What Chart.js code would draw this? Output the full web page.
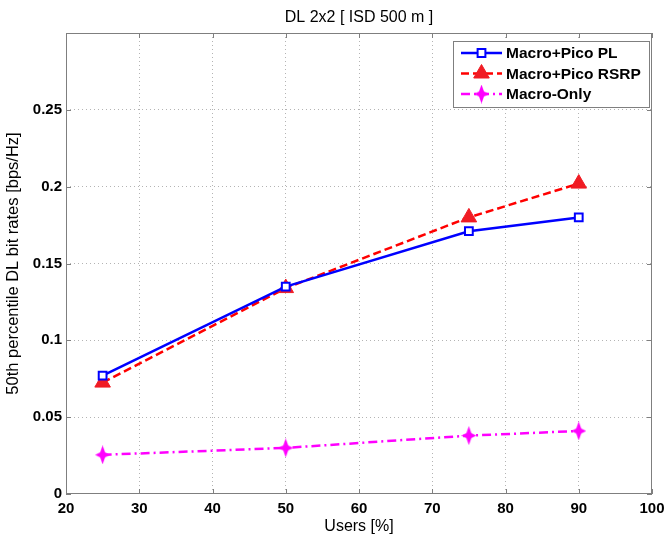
<!DOCTYPE html>
<html>
<head>
<meta charset="utf-8">
<script src="https://cdn.jsdelivr.net/npm/chart.js@4/dist/chart.umd.min.js"></script>
<style>
html,body{margin:0;padding:0;background:#fff;}
#wrap{width:667px;height:536px;position:relative;}
</style>
</head>
<body>
<div id="wrap"><canvas id="c" width="667" height="536"></canvas></div>
<script>
// ---- data ----
const chartTitle = 'DL 2x2 [ ISD 500 m ]';
const xTitle = 'Users [%]';
const yTitle = '50th percentile DL bit rates [bps/Hz]';
const users = [25, 50, 75, 90];
const picoPL = [0.077, 0.135, 0.171, 0.180];
const picoRSRP = [0.0725, 0.134, 0.180, 0.202];
const macroOnly = [0.0255, 0.030, 0.038, 0.041];
const seriesNames = ['Macro+Pico PL', 'Macro+Pico RSRP', 'Macro-Only'];
const xTicks = [20, 30, 40, 50, 60, 70, 80, 90, 100];
const xTickLabels = ['20', '30', '40', '50', '60', '70', '80', '90', '100'];
const yTicks = [0, 0.05, 0.1, 0.15, 0.2, 0.25, 0.3];
const yTickLabels = ['0', '0.05', '0.1', '0.15', '0.2', '0.25', ''];

const FONT = '"Liberation Sans", Arial, sans-serif';

// 4-point star marker
function makeStar(color) {
  const c = document.createElement('canvas');
  c.width = 15; c.height = 19;
  const g = c.getContext('2d');
  g.fillStyle = color;
  g.beginPath();
  g.moveTo(7.5, 0);
  g.lineTo(10, 7);
  g.lineTo(15, 9.5);
  g.lineTo(10, 12);
  g.lineTo(7.5, 19);
  g.lineTo(5, 12);
  g.lineTo(0, 9.5);
  g.lineTo(5, 7);
  g.closePath();
  g.fill();
  return c;
}
const star = makeStar('#ff00ff');

const toXY = (arr) => arr.map((v, i) => ({x: users[i], y: v}));

const boxPlugin = {
  id: 'box',
  afterDatasetsDraw(chart) {
    const {ctx, chartArea: a, scales} = chart;
    ctx.save();
    ctx.strokeStyle = '#7f7f7f';
    ctx.lineWidth = 1;
    ctx.strokeRect(a.left + 0.5, a.top + 0.5, a.right - a.left - 1, a.bottom - a.top - 1);
    ctx.beginPath();
    const tl = 5;
    xTicks.forEach(v => {
      const x = Math.round(scales.x.getPixelForValue(v)) + 0.5;
      ctx.moveTo(x, a.bottom); ctx.lineTo(x, a.bottom - tl);
      ctx.moveTo(x, a.top); ctx.lineTo(x, a.top + tl);
    });
    yTicks.forEach(v => {
      const y = Math.round(scales.y.getPixelForValue(v)) + 0.5;
      ctx.moveTo(a.left, y); ctx.lineTo(a.left + tl, y);
      ctx.moveTo(a.right, y); ctx.lineTo(a.right - tl, y);
    });
    ctx.stroke();
    ctx.restore();
  },
  afterDraw(chart) {
    // legend
    const {ctx, chartArea: a} = chart;
    const bw = 196, bh = 66;
    const bx = a.right - 3 - bw, by = a.top + 8;
    ctx.save();
    ctx.fillStyle = '#fff';
    ctx.fillRect(bx, by, bw, bh);
    ctx.strokeStyle = '#7f7f7f';
    ctx.lineWidth = 1;
    ctx.strokeRect(bx + 0.5, by + 0.5, bw, bh);
    ctx.font = 'bold 15.5px ' + FONT;
    ctx.textBaseline = 'middle';
    chart.data.datasets.forEach((ds, i) => {
      const y = by + 12 + i * 20.5;
      const x0 = bx + 8, x1 = bx + 49, xm = (x0 + x1) / 2;
      ctx.strokeStyle = ds.borderColor;
      ctx.lineWidth = ds.borderWidth;
      ctx.setLineDash(ds.borderDash || []);
      ctx.beginPath(); ctx.moveTo(x0, y); ctx.lineTo(x1, y); ctx.stroke();
      ctx.setLineDash([]);
      ctx.fillStyle = ds.pointBackgroundColor;
      ctx.strokeStyle = ds.pointBorderColor;
      ctx.lineWidth = ds.pointBorderWidth;
      Chart.helpers.drawPoint(ctx, {pointStyle: ds.pointStyle, radius: ds.pointRadius, borderWidth: ds.pointBorderWidth, rotation: 0}, xm, y);
      ctx.fillStyle = '#000';
      ctx.fillText(ds.label, bx + 53, y + 1);
    });
    ctx.restore();
  }
};

new Chart(document.getElementById('c'), {
  type: 'line',
  data: {
    datasets: [
      {
        label: seriesNames[0], data: toXY(picoPL),
        borderColor: '#0000ff', borderWidth: 2.5,
        pointStyle: 'rect', pointRadius: 5.5, pointBorderWidth: 2,
        pointBackgroundColor: '#ffffff', pointBorderColor: '#0000ff'
      },
      {
        label: seriesNames[1], data: toXY(picoRSRP),
        borderColor: '#ff0000', borderWidth: 2.5, borderDash: [8, 4],
        pointStyle: 'triangle', pointRadius: 9, pointBorderWidth: 1,
        pointBackgroundColor: '#f01c24', pointBorderColor: '#f01c24'
      },
      {
        label: seriesNames[2], data: toXY(macroOnly),
        borderColor: '#ff00ff', borderWidth: 2.5, borderDash: [9, 4, 2, 4],
        pointStyle: star, pointRadius: 9, pointBorderWidth: 0,
        pointBackgroundColor: '#ff00ff', pointBorderColor: '#ff00ff'
      }
    ]
  },
  options: {
    responsive: false,
    animation: false,
    devicePixelRatio: 1,
    layout: {padding: {left: 0, right: 15, top: 0, bottom: 0}},
    elements: {line: {tension: 0, fill: false}},
    plugins: {
      legend: {display: false},
      tooltip: {enabled: false},
      title: {
        display: true, text: chartTitle, color: '#000', fullSize: false,
        font: {family: FONT, size: 16, weight: 'normal'},
        padding: {top: 8, bottom: 5.8}
      }
    },
    scales: {
      x: {
        type: 'linear', min: 20, max: 100,
        afterBuildTicks: (s) => { s.ticks = xTicks.map(v => ({value: v})); },
        afterFit: (s) => { s.height = 42; s.paddingLeft = 0; s.paddingRight = 0; },
        ticks: {
          color: '#000', padding: 6, maxRotation: 0, autoSkip: false,
          font: {family: FONT, size: 15, weight: 'bold'},
          callback: (v, i) => xTickLabels[i]
        },
        grid: {
          drawTicks: false,
          color: (ctx) => (ctx.tick && (ctx.tick.value === 20 || ctx.tick.value === 100)) ? 'rgba(0,0,0,0)' : '#b4b4b4',
          lineWidth: 1
        },
        border: {display: false, dash: [1, 3]},
        title: {
          display: true, text: xTitle, color: '#000',
          font: {family: FONT, size: 16},
          padding: {top: 0, bottom: 0}
        }
      },
      y: {
        type: 'linear', min: 0, max: 0.3,
        afterBuildTicks: (s) => { s.ticks = yTicks.map(v => ({value: v})); },
        afterFit: (s) => { s.width = 66; s.paddingTop = 0; s.paddingBottom = 0; },
        ticks: {
          color: '#000', padding: 4, autoSkip: false,
          font: {family: FONT, size: 15, weight: 'bold'},
          callback: (v, i) => yTickLabels[i]
        },
        grid: {
          drawTicks: false,
          color: (ctx) => (ctx.tick && (ctx.index === 0 || ctx.index === yTicks.length - 1)) ? 'rgba(0,0,0,0)' : '#b4b4b4',
          lineWidth: 1
        },
        border: {display: false, dash: [1, 3]},
        title: {
          display: true, text: yTitle, color: '#000',
          font: {family: FONT, size: 16.5},
          padding: {top: 4, bottom: 0}
        }
      }
    }
  },
  plugins: [boxPlugin]
});
</script>
</body>
</html>
